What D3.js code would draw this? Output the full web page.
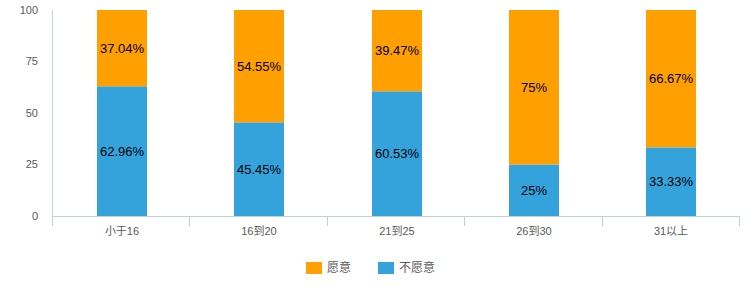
<!DOCTYPE html>
<html><head><meta charset="utf-8">
<script src="https://cdn.jsdelivr.net/npm/d3@7"></script>
<style>body{margin:0;background:#fff}</style>
</head><body>
<svg id="c" width="750" height="300"></svg>
<script>
const categories = ["小于16","16到20","21到25","26到30","31以上"];
const yuanyi = [37.04, 54.55, 39.47, 75, 66.67];
const buyuanyi = [62.96, 45.45, 60.53, 25, 33.33];
const yTicks = [0,25,50,75,100];
const seriesNames = ["愿意","不愿意"];
const colors = {"愿意":"#FF9F00","不愿意":"#34A3DB"};

const svg = d3.select("#c");
const font = "'Liberation Sans','Noto Sans CJK SC',sans-serif";
const x = d3.scaleBand().domain(categories).range([52,739]).paddingInner(0).paddingOuter(0);
const y = d3.scaleLinear().domain([0,100]).range([216,10]);
const bw = 50;

const data = categories.map((c,i)=>({c, b:buyuanyi[i], o:yuanyi[i]}));

// axis lines
const axisColor = "#BFD0E3";
svg.append("line").attr("x1",52.5).attr("x2",52.5).attr("y1",y(100)).attr("y2",226).attr("stroke",axisColor);
svg.append("line").attr("x1",52).attr("x2",739).attr("y1",216.5).attr("y2",216.5).attr("stroke",axisColor);
categories.forEach((c,i)=>{
  const xx = Math.round(x(c)+x.bandwidth())+0.5;
  svg.append("line").attr("x1",xx).attr("x2",xx).attr("y1",216).attr("y2",226).attr("stroke",axisColor);
});

// y tick labels
svg.selectAll(".yt").data(yTicks).enter().append("text")
  .attr("x",38).attr("y",d=>y(d)).attr("dy","0.35em").attr("text-anchor","end")
  .attr("font-family",font).attr("font-size",11).attr("fill","#595959").text(d=>d);

// bars
const cx = c => Math.round(x(c)+x.bandwidth()/2)+1;
svg.selectAll(".b").data(data).enter().append("rect")
  .attr("x",d=>cx(d.c)-bw/2).attr("width",bw)
  .attr("y",d=>y(d.b)).attr("height",d=>y(0)-y(d.b)).attr("fill",colors["不愿意"]);
svg.selectAll(".o").data(data).enter().append("rect")
  .attr("x",d=>cx(d.c)-bw/2).attr("width",bw)
  .attr("y",d=>y(d.b+d.o)).attr("height",d=>y(d.b)-y(d.b+d.o)).attr("fill",colors["愿意"]);

// value labels
svg.selectAll(".bl").data(data).enter().append("text")
  .attr("x",d=>cx(d.c)).attr("y",d=>(y(0)+y(d.b))/2).attr("dy","0.35em").attr("text-anchor","middle")
  .attr("font-family",font).attr("font-size",13).attr("fill","#000").text(d=>d.b+"%");
svg.selectAll(".ol").data(data).enter().append("text")
  .attr("x",d=>cx(d.c)).attr("y",d=>(y(d.b)+y(d.b+d.o))/2).attr("dy","0.35em").attr("text-anchor","middle")
  .attr("font-family",font).attr("font-size",13).attr("fill","#000").text(d=>d.o+"%");

// x labels
svg.selectAll(".xl").data(categories).enter().append("text")
  .attr("x",d=>cx(d)).attr("y",231).attr("dy","0.35em").attr("text-anchor","middle")
  .attr("font-family",font).attr("font-size",11).attr("fill","#595959").text(d=>d);

// legend
const legX = [306,378];
seriesNames.forEach((s,i)=>{
  svg.append("rect").attr("x",legX[i]).attr("y",262).attr("width",16).attr("height",12).attr("fill",colors[s]);
  svg.append("text").attr("x",legX[i]+21).attr("y",268).attr("dy","0.35em")
    .attr("font-family",font).attr("font-size",12).attr("fill","#595959").text(s);
});
</script>
</body></html>
